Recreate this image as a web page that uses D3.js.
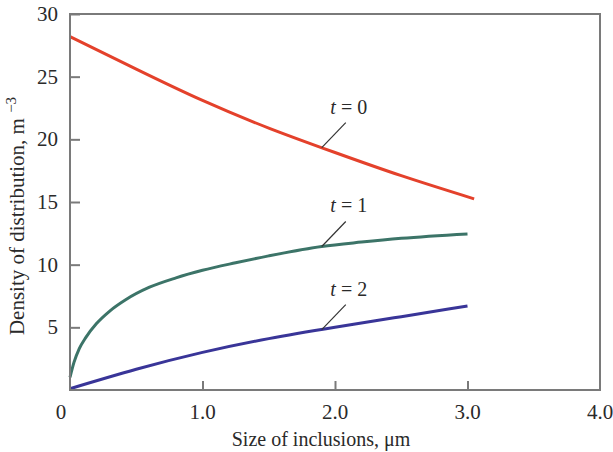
<!DOCTYPE html>
<html>
<head>
<meta charset="utf-8">
<script src="https://cdn.jsdelivr.net/npm/d3@7"></script>
<style>
  body { margin: 0; background: #fff; }
  text { font-family: "Liberation Serif", "DejaVu Serif", serif; fill: #2a2a2a; }
</style>
</head>
<body>
<script>
// values
let sizeT0 = [0, 0.5, 1.0, 1.5, 2.0, 2.5, 3.05]
let densT0 = [28.2, 25.6, 23.1, 20.9, 18.95, 17.1, 15.25]

let sizeT1 = [0, 0.03, 0.07, 0.12, 0.2, 0.3, 0.42, 0.6, 0.8, 1.0, 1.25, 1.5, 1.9, 2.2, 2.5, 3.0]
let densT1 = [1.0, 2.2, 3.3, 4.2, 5.3, 6.3, 7.2, 8.2, 8.95, 9.55, 10.15, 10.7, 11.45, 11.8, 12.1, 12.45]

let sizeT2 = [0, 0.5, 1.0, 1.5, 2.0, 2.5, 3.0]
let densT2 = [0.1, 1.65, 3.0, 4.1, 5.0, 5.85, 6.7]

let xTicks = [0, 1, 2, 3, 4]
let xTickLabels = ['0', '1.0', '2.0', '3.0', '4.0']
let yTicks = [5, 10, 15, 20, 25, 30]

let series = [
  { t: 0, x: sizeT0, y: densT0, color: '#e4412b', curve: d3.curveNatural },
  { t: 1, x: sizeT1, y: densT1, color: '#3c7468', curve: d3.curveMonotoneX },
  { t: 2, x: sizeT2, y: densT2, color: '#393598', curve: d3.curveNatural }
]
let labelAt = 1.9

let w = 613, h = 452
let mLeft = 70, mRight = 600, mTop = 14, mBottom = 390

let svg = d3.select('body').append('svg')
  .attr('width', w)
  .attr('height', h)

let x = d3.scaleLinear().domain([0, 4]).range([mLeft, mRight])
let y = d3.scaleLinear().domain([0, 30]).range([mBottom, mTop])

// curves
series.forEach(s => {
  let line = d3.line()
    .x(d => x(d[0]))
    .y(d => y(d[1]))
    .curve(s.curve)
  let pts = s.x.map((v, i) => [v, s.y[i]])
  svg.append('path')
    .attr('d', line(pts))
    .attr('fill', 'none')
    .attr('stroke', s.color)
    .attr('stroke-width', 3)

  // value on the curve at the label position
  let yv = d3.scaleLinear().domain(s.x).range(s.y)(labelAt)
  let px = x(labelAt), py = y(yv)
  svg.append('line')
    .attr('x1', px).attr('y1', py)
    .attr('x2', px + 24).attr('y2', py - 25)
    .attr('stroke', '#333')
    .attr('stroke-width', 1.2)
  let lab = svg.append('text')
    .attr('x', px + 27)
    .attr('y', py - 34)
    .attr('text-anchor', 'middle')
    .style('font-size', '20px')
  lab.append('tspan').style('font-style', 'italic').text('t')
  lab.append('tspan').text(' = ' + s.t)
})

// frame
svg.append('rect')
  .attr('x', mLeft).attr('y', mTop)
  .attr('width', mRight - mLeft).attr('height', mBottom - mTop)
  .attr('fill', 'none')
  .attr('stroke', '#7a7a7a')
  .attr('stroke-width', 2)

// y axis (inward ticks)
let yAxis = d3.axisRight(y)
  .tickValues(yTicks)
  .tickSize(10)
  .tickFormat('')
let gy = svg.append('g').attr('transform', `translate(${mLeft},0)`).call(yAxis)
gy.select('.domain').remove()
gy.selectAll('line').attr('stroke', '#7a7a7a').attr('stroke-width', 2)
svg.selectAll('.ylab')
  .data(yTicks)
  .enter()
  .append('text')
  .attr('class', 'ylab')
  .attr('x', 58)
  .attr('y', d => y(d) + 7)
  .attr('text-anchor', 'end')
  .style('font-size', '21px')
  .text(d => d)

// x axis (inward ticks)
let xAxis = d3.axisTop(x)
  .tickValues([1, 2, 3])
  .tickSize(9)
  .tickFormat('')
let gx = svg.append('g').attr('transform', `translate(0,${mBottom})`).call(xAxis)
gx.select('.domain').remove()
gx.selectAll('line').attr('stroke', '#7a7a7a').attr('stroke-width', 2)
svg.selectAll('.xlab')
  .data(xTicks)
  .enter()
  .append('text')
  .attr('class', 'xlab')
  .attr('x', d => d == 0 ? x(d) - 9 : x(d))
  .attr('y', 419)
  .attr('text-anchor', 'middle')
  .style('font-size', '21px')
  .text((d, i) => xTickLabels[i])

// axis titles
svg.append('text')
  .attr('x', 321)
  .attr('y', 446)
  .attr('text-anchor', 'middle')
  .style('font-size', '20px')
  .text('Size of inclusions, μm')

let yt = svg.append('text')
  .attr('transform', 'translate(24,216) rotate(-90)')
  .attr('text-anchor', 'middle')
  .style('font-size', '21px')
yt.append('tspan').text('Density of distribution, m ')
yt.append('tspan').attr('dy', -8).style('font-size', '15px').text('−3')
</script>
</body>
</html>
